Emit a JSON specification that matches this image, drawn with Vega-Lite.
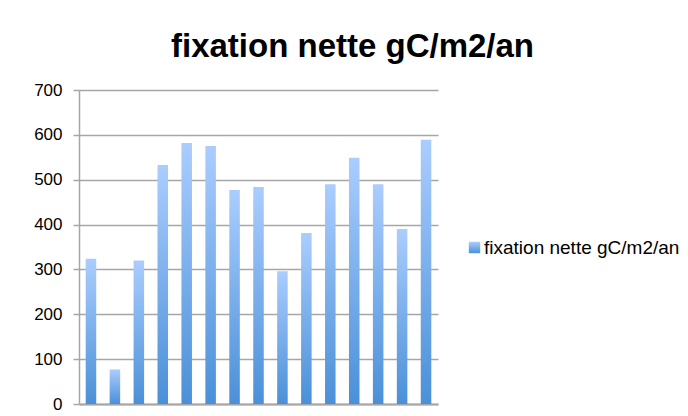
{
  "$schema": "https://vega.github.io/schema/vega-lite/v6.json",
  "width": 359,
  "height": 314,
  "autosize": {"type": "none"},
  "padding": {"left": 79, "top": 90, "right": 250, "bottom": 12},
  "background": "white",
  "title": {
    "text": "fixation nette gC/m2/an",
    "font": "Liberation Sans",
    "fontSize": 33,
    "fontWeight": "bold",
    "color": "black",
    "anchor": "middle",
    "dx": 94,
    "offset": 17
  },
  "data": {
    "values": [
      {"i": 1, "s": "fixation nette gC/m2/an", "v": 324},
      {"i": 2, "s": "fixation nette gC/m2/an", "v": 77},
      {"i": 3, "s": "fixation nette gC/m2/an", "v": 320},
      {"i": 4, "s": "fixation nette gC/m2/an", "v": 533},
      {"i": 5, "s": "fixation nette gC/m2/an", "v": 582},
      {"i": 6, "s": "fixation nette gC/m2/an", "v": 575},
      {"i": 7, "s": "fixation nette gC/m2/an", "v": 477},
      {"i": 8, "s": "fixation nette gC/m2/an", "v": 484},
      {"i": 9, "s": "fixation nette gC/m2/an", "v": 296},
      {"i": 10, "s": "fixation nette gC/m2/an", "v": 381},
      {"i": 11, "s": "fixation nette gC/m2/an", "v": 490},
      {"i": 12, "s": "fixation nette gC/m2/an", "v": 549},
      {"i": 13, "s": "fixation nette gC/m2/an", "v": 490},
      {"i": 14, "s": "fixation nette gC/m2/an", "v": 390},
      {"i": 15, "s": "fixation nette gC/m2/an", "v": 589}
    ]
  },
  "mark": {
    "type": "bar",
    "strokeWidth": 0,
    "fill": {"gradient": "linear", "x1": 0, "y1": 0, "x2": 0, "y2": 1,
      "stops": [{"offset": 0, "color": "#abcdfe"}, {"offset": 1, "color": "#4a90d8"}]}
  },
  "encoding": {
    "x": {
      "field": "i",
      "type": "ordinal",
      "scale": {"paddingInner": 0.56, "paddingOuter": 0.28},
      "axis": {"labels": false, "ticks": false, "title": null, "domainColor": "#a6a6a6", "domainWidth": 2}
    },
    "y": {
      "field": "v",
      "type": "quantitative",
      "scale": {"domain": [0, 700], "nice": false},
      "axis": {
        "values": [0, 100, 200, 300, 400, 500, 600, 700],
        "title": null,
        "grid": true,
        "gridColor": "#a6a6a6",
        "gridWidth": 1.5,
        "domainColor": "#a6a6a6",
        "domainWidth": 1.5,
        "tickColor": "#a6a6a6",
        "tickSize": 6,
        "tickWidth": 1.5,
        "labelFont": "Liberation Sans",
        "labelFontSize": 17,
        "labelColor": "black",
        "labelPadding": 11
      }
    },
    "stroke": {
      "field": "s",
      "type": "nominal",
      "scale": {"range": ["#7fb0ee"]},
      "legend": {
        "title": null,
        "orient": "none",
        "legendX": 386,
        "legendY": 148,
        "symbolType": "square",
        "symbolSize": 130,
        "symbolStrokeWidth": 0,
        "labelFont": "Liberation Sans",
        "labelFontSize": 19,
        "labelLimit": 400,
        "labelColor": "black",
        "labelOffset": 0,
        "encode": {
          "symbols": {
            "update": {
              "fill": {"value": {"gradient": "linear", "x1": 0, "y1": 0, "x2": 0, "y2": 1,
                "stops": [{"offset": 0, "color": "#abcdfe"}, {"offset": 1, "color": "#4a90d8"}]}},
              "strokeWidth": {"value": 0}
            }
          }
        }
      }
    }
  },
  "config": {"view": {"stroke": null}}
}
